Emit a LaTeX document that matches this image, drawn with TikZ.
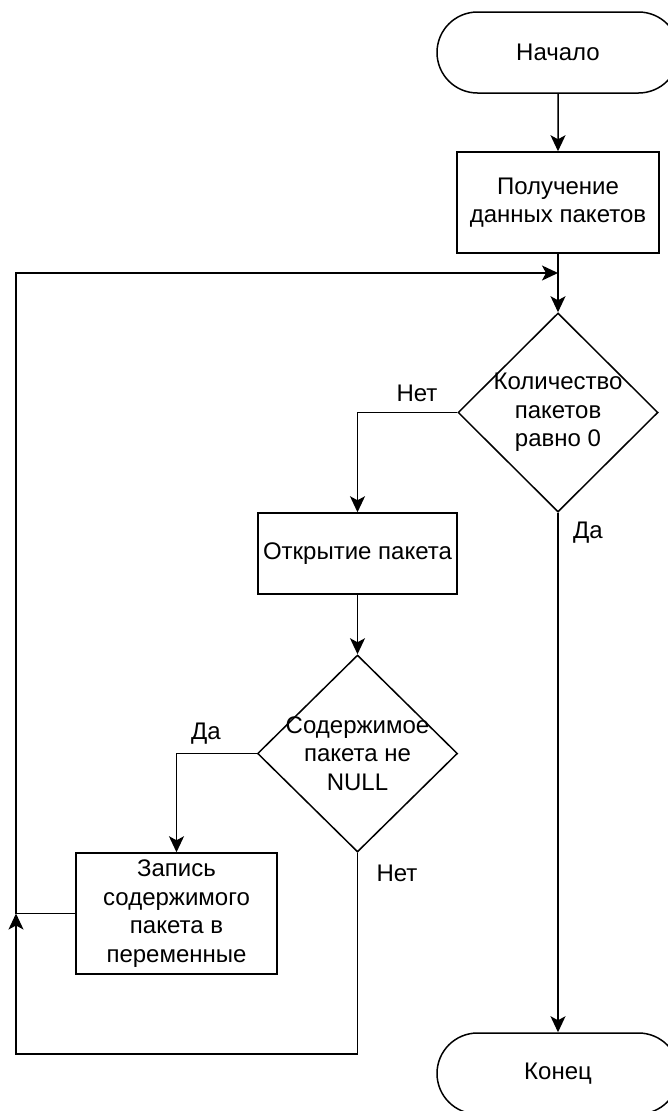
\documentclass[tikz,border=0pt]{standalone}
\usepackage{fontspec}
\setmainfont{Liberation Sans}
\usetikzlibrary{shapes.geometric,shapes.misc,arrows.meta}
\begin{document}
\begin{tikzpicture}[x=1pt,y=-1pt,
  every node/.style={font=\fontsize{24}{28.7}\selectfont, text=black},
  conn/.style={line width=1.5pt, draw=black},
  arr/.style={conn, -{Stealth[length=16pt,width=15pt,inset=4pt]}},
  termbox/.style={draw, line width=1.5pt, rounded rectangle, minimum width=242pt, minimum height=81pt, inner sep=0pt},
  procbox/.style={draw, line width=1.5pt, rectangle, inner sep=0pt, align=center},
  decbox/.style={draw, line width=1.5pt, diamond, inner sep=0pt, minimum width=200pt, minimum height=199pt},
  lbl/.style={inner sep=0pt}
]
\useasboundingbox (0,0) rectangle (668,1111);
\clip (0,0) rectangle (668,1111);
\fill[white] (0,0) rectangle (668,1111);

\node[termbox] (start) at (558,52.5) {Начало};
\node[procbox, minimum width=202pt, minimum height=101pt] (b1) at (558,202.5) {Получение\\данных пакетов};
\node[decbox, label={[align=center, font=\fontsize{24}{28.7}\selectfont]center:Количество\\пакетов\\равно 0}] (d1) at (558,412.5) {};
\node[procbox, minimum width=199pt, minimum height=81pt] (b2) at (357.5,553.5) {Открытие пакета};
\node[decbox, minimum height=197pt, label={[align=center, font=\fontsize{24}{28.7}\selectfont]center:Содержимое\\пакета не\\NULL}] (d2) at (357.5,753.5) {};
\node[procbox, minimum width=201pt, minimum height=121pt] (b3) at (176.5,913.5) {Запись\\содержимого\\пакета в\\переменные};
\node[termbox] (end) at (558,1073.5) {Конец};

\coordinate (lb) at (16,1054);
\coordinate (lj) at (lb |- b3.west);
\coordinate (lt) at (16,273);
\coordinate (jt) at (b1.south |- lt);

\draw[arr] (start) -- (b1);
\draw[arr] (b1) -- (d1);
\draw[arr] (d1.west) -| (b2.north);
\draw[arr] (d1.south) -- (end.north);
\draw[arr] (b2) -- (d2);
\draw[arr] (d2.west) -| (b3.north);
\draw[arr] (d2.south) |- (lb) -- (lj);
\draw[arr] (b3.west) -- (lj) -- (lt) -- (jt);

\node[lbl] (l1) at (417,393) {Нет};
\node[lbl] (l2) at (588,533) {Да};
\node[lbl] (l3) at (206,734) {Да};
\node[lbl] (l4) at (397,873) {Нет};
\end{tikzpicture}
\end{document}
